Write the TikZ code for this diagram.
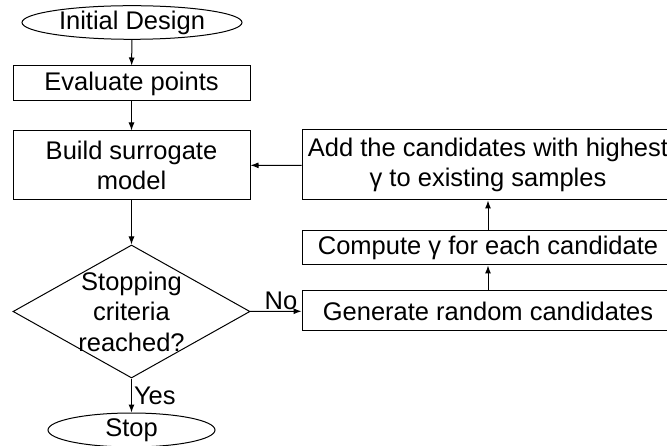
\documentclass[tikz,border=0pt]{standalone}
\usepackage{fontspec}
\setmainfont{Liberation Sans}
\usepackage{tikz}
\usetikzlibrary{arrows.meta,positioning,shapes.geometric}

\begin{document}
\begin{tikzpicture}[x=1pt, y=-1pt, line width=1pt,
				every node/.style={font=\fontsize{25.5}{30.5}\selectfont},
				block/.style={draw, rectangle, minimum width=237pt, inner sep=0pt, align=center},
				term/.style={draw, ellipse, inner sep=0pt},
				decision/.style={draw, diamond, minimum width=237pt, minimum height=133pt, inner sep=0pt},
				flow/.style={-{Latex[length=8pt,width=6pt]}}]
			\useasboundingbox (0,0) rectangle (667,446);
			% main column
			\node[term, minimum width=220pt, minimum height=31pt] (init) at (132,22.5) {Initial Design};
			\node[block, minimum height=35pt] (eval) at (131.5,83.5) {Evaluate points};
			\node[block, minimum height=69pt] (build) at (131.5,165.5) {Build surrogate\\model};
			\node[decision] (crit) at (131.5,311.5) {};
			\node[align=center, inner sep=0pt] (crittext) at (crit.center) {Stopping\\criteria\\reached?};
			\node[term, minimum width=167pt, minimum height=34pt] (stop) at (131.5,430) {Stop};
			% loop on the right
			\node[block, minimum width=372pt, minimum height=40pt] (gen) at (488,311) {Generate random candidates};
			\node[block, minimum width=372pt, minimum height=34pt] (comp) at (488,248) {Compute γ for each candidate};
			\node[block, minimum width=372pt, minimum height=70pt] (add) at (488,165) {Add the candidates with highest\\γ to existing samples};
			\draw[flow] (init) -- (eval);
			\draw[flow] (eval) -- (build);
			\draw[flow] (build) -- (crit);
			\draw[flow] (crit) -- node[right, inner sep=2pt] {Yes} (stop);
			\draw[flow] (crit) -- node[above, pos=0.6, inner sep=1pt] {No} (gen);
			\draw[flow] (gen) -- (comp);
			\draw[flow] (comp) -- (add);
			\draw[flow] (add) -- (build);
		\end{tikzpicture}
\end{document}
